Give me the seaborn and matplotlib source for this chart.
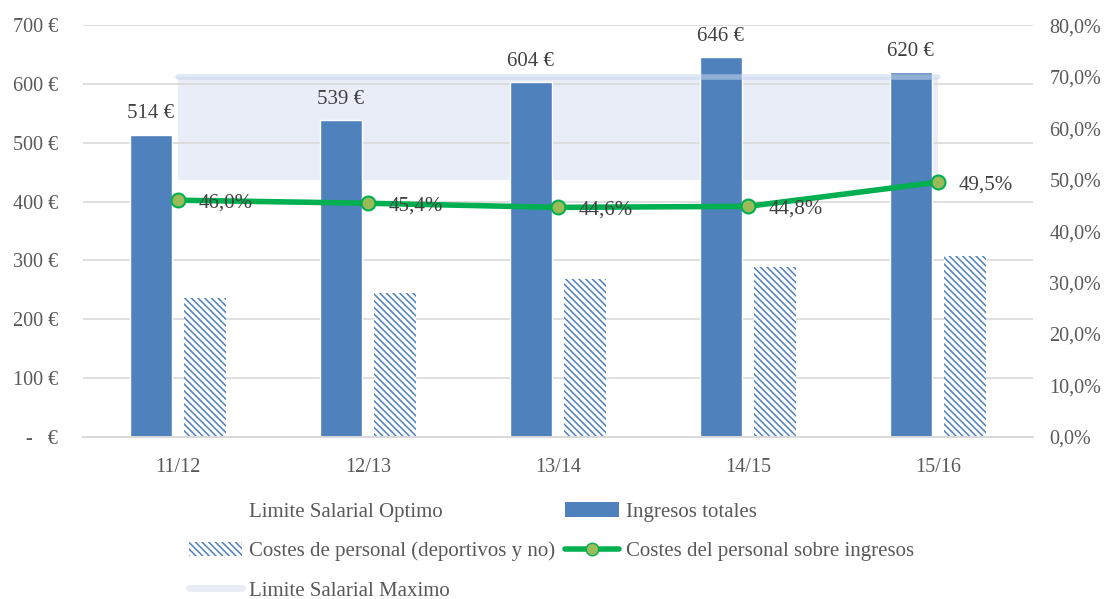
import numpy as np
import pandas as pd
import matplotlib
matplotlib.use("Agg")
import matplotlib.pyplot as plt
import seaborn as sns
from matplotlib.lines import Line2D
from matplotlib.patches import Patch

# datos
temporadas = ["11/12", "12/13", "13/14", "14/15", "15/16"]
ingresos = [514, 539, 604, 646, 620]
costes = [236, 245, 269, 289, 307]
ratio = [46.0, 45.4, 44.6, 44.8, 49.5]
limite_optimo = [50, 50, 50, 50, 50]
limite_maximo = [20, 20, 20, 20, 20]

azul = "#4F81BD"
verde = "#00B050"
banda = "#E9EDF7"
gris_txt = "#595959"
rayado = "\\\\\\\\\\"

sns.set_theme(style="white")
plt.rcParams["font.family"] = ["Liberation Serif", "DejaVu Serif"]
plt.rcParams["hatch.linewidth"] = 1.1

df = pd.DataFrame({
    "Temporada": temporadas * 2,
    "Serie": ["Ingresos totales"] * 5 + ["Costes de personal (deportivos y no)"] * 5,
    "Valor": ingresos + costes,
})

fig = plt.figure(figsize=(11.07, 5.99), dpi=100)
ax = fig.add_axes([0.075, 0.2705, 0.858, 0.6875])
ax2 = ax.twinx()

# banda de limites salariales (eje derecho)
x = np.arange(len(temporadas))
lo = np.array(limite_optimo)
hi = lo + np.array(limite_maximo)
ax.fill_between(x, lo, hi, color=banda, lw=0, zorder=0.5, transform=ax2.transData)

sns.barplot(data=df, x="Temporada", y="Valor", hue="Serie", ax=ax,
            palette=[azul, azul], width=0.57, gap=0.23, legend=False,
            saturation=1, zorder=2)

for bar in ax.containers[1]:
    bar.set_facecolor("white")
    bar.set_edgecolor(azul)
    bar.set_hatch(rayado)
    bar.set_linewidth(0)

for bar, v in zip(ax.containers[0], ingresos):
    ax.annotate(f"{v} €", (bar.get_x() + bar.get_width() / 2, bar.get_height()),
                xytext=(0, 8), textcoords="offset points", ha="center", va="bottom",
                fontsize=15, color="#404040")

# borde superior de la banda
ax.plot(x, hi, color="#C9D6EE", lw=4, alpha=0.55, zorder=3,
        solid_capstyle="round", transform=ax2.transData)

sns.lineplot(x=x, y=ratio, ax=ax2, color=verde, lw=4, marker="o", markersize=10,
             markerfacecolor="#9BBB59", markeredgecolor=verde, markeredgewidth=1.5)
for xi, r in zip(x, ratio):
    ax2.annotate(f"{r:.1f}%".replace(".", ","), (xi, r), xytext=(15, -2),
                 textcoords="offset points", ha="left", va="center",
                 fontsize=15, color="#404040")

ax.set_ylim(0, 700)
ax.set_yticks(range(0, 701, 100))
ax.set_yticklabels(["-   €"] + [f"{v} €" for v in range(100, 701, 100)])
ax2.set_ylim(0, 80)
ax2.set_yticks(range(0, 81, 10))
ax2.set_yticklabels([f"{v},0%" for v in range(0, 81, 10)])
ax.set_xlim(-0.5, 4.5)
ax.set_xlabel("")
ax.set_ylabel("")
ax2.set_ylabel("")

ax.grid(axis="y", color="#D9D9D9", lw=1.2)
ax.set_axisbelow(True)
for a in (ax, ax2):
    for s in ["top", "left", "right"]:
        a.spines[s].set_visible(False)
    a.spines["bottom"].set_color("#D9D9D9")
    a.spines["bottom"].set_linewidth(1.2)
ax.tick_params(axis="y", length=0, pad=18, labelsize=14.5, labelcolor=gris_txt)
ax.tick_params(axis="x", length=0, pad=15, labelsize=14.5, labelcolor=gris_txt)
ax2.tick_params(axis="y", length=0, pad=12, labelsize=14.5, labelcolor=gris_txt)

handles = [
    Line2D([], [], color="none"),
    Patch(facecolor="white", edgecolor=azul, hatch=rayado, lw=0),
    Line2D([], [], color=banda, lw=5),
    Patch(facecolor=azul, lw=0),
    Line2D([], [], color=verde, lw=4, marker="o", markersize=9,
           markerfacecolor="#9BBB59", markeredgecolor=verde),
]
labels = ["Limite Salarial Optimo", "Costes de personal (deportivos y no)",
          "Limite Salarial Maximo", "Ingresos totales",
          "Costes del personal sobre ingresos"]
fig.legend(handles, labels, ncol=2, loc="upper center", bbox_to_anchor=(0.498, 0.193),
           frameon=False, fontsize=15, labelcolor=gris_txt, handlelength=2.55,
           handletextpad=0.35, columnspacing=0.5, labelspacing=0.95)

fig.savefig("out.png", dpi=100)
